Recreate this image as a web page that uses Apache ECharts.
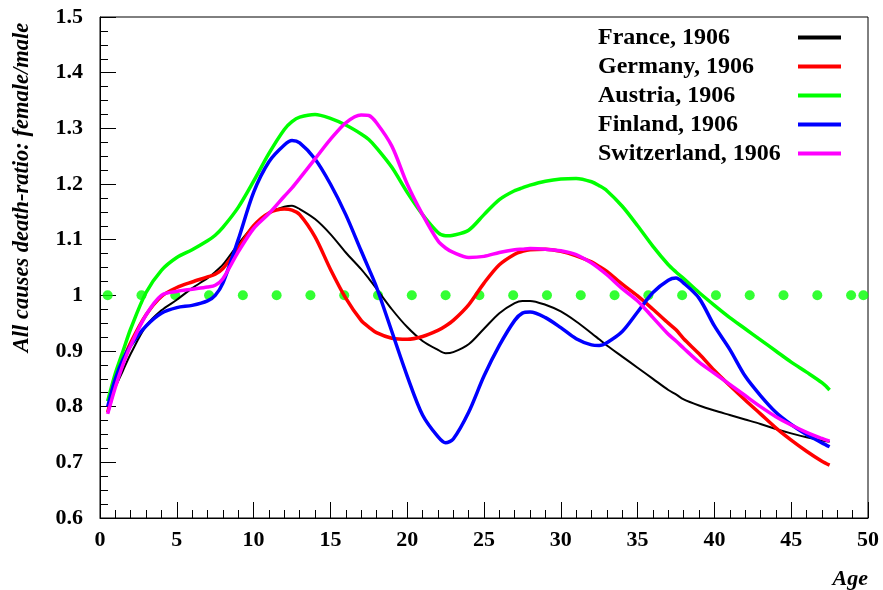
<!DOCTYPE html>
<html>
<head>
<meta charset="utf-8">
<script src="https://cdn.jsdelivr.net/npm/echarts@6/dist/echarts.min.js"></script>
<style>html,body{margin:0;padding:0;background:#fff}#c{width:883px;height:590px}</style>
</head>
<body>
<div id="c"></div>
<script>
const ages = [0.5,1,1.5,2,3,4,5,6,7,7.5,8,9,10,11,12,12.5,13,14,15,16,17,17.5,18,19,20,21,22,22.5,23,24,25,26,27,27.5,28,29,30,31,32,32.5,33,34,35,36,37,37.5,38,39,40,41,42,43,44,45,46,47,47.5];
const france = [0.80,0.835,0.865,0.895,0.945,0.973,0.992,1.013,1.031,1.042,1.055,1.092,1.125,1.148,1.159,1.161,1.155,1.137,1.11,1.077,1.047,1.03,1.012,0.975,0.943,0.918,0.902,0.896,0.898,0.912,0.94,0.968,0.986,0.99,0.99,0.983,0.971,0.953,0.932,0.921,0.91,0.89,0.87,0.85,0.83,0.822,0.813,0.802,0.793,0.785,0.777,0.769,0.76,0.752,0.745,0.739,0.737];
const germany = [0.79,0.84,0.882,0.915,0.965,0.998,1.014,1.024,1.033,1.038,1.048,1.085,1.125,1.148,1.155,1.153,1.145,1.105,1.047,0.995,0.955,0.943,0.933,0.923,0.921,0.926,0.937,0.945,0.955,0.983,1.022,1.055,1.074,1.079,1.082,1.083,1.079,1.071,1.06,1.052,1.043,1.02,0.999,0.975,0.95,0.938,0.922,0.895,0.865,0.838,0.812,0.787,0.762,0.74,0.72,0.702,0.695];
const austria = [0.81,0.86,0.90,0.94,1.005,1.045,1.068,1.082,1.098,1.108,1.122,1.158,1.205,1.255,1.298,1.312,1.32,1.325,1.318,1.306,1.29,1.28,1.265,1.23,1.185,1.145,1.113,1.107,1.108,1.117,1.145,1.172,1.188,1.193,1.198,1.205,1.209,1.21,1.204,1.197,1.188,1.16,1.125,1.088,1.055,1.042,1.03,1.005,0.982,0.96,0.94,0.92,0.90,0.88,0.862,0.843,0.83];
const finland = [0.80,0.85,0.885,0.91,0.945,0.968,0.978,0.982,0.99,1.0,1.022,1.10,1.185,1.24,1.27,1.278,1.274,1.245,1.2,1.145,1.08,1.048,1.015,0.935,0.855,0.785,0.746,0.735,0.742,0.79,0.855,0.91,0.955,0.968,0.97,0.96,0.942,0.922,0.911,0.91,0.915,0.935,0.97,1.005,1.027,1.031,1.022,0.995,0.945,0.903,0.855,0.82,0.79,0.768,0.75,0.735,0.728];
const switzerland = [0.787,0.835,0.876,0.91,0.965,1.0,1.007,1.011,1.015,1.018,1.03,1.078,1.12,1.147,1.178,1.193,1.21,1.245,1.28,1.31,1.324,1.323,1.31,1.268,1.2,1.145,1.098,1.085,1.077,1.068,1.07,1.077,1.082,1.083,1.084,1.083,1.08,1.073,1.058,1.048,1.037,1.012,0.99,0.96,0.93,0.918,0.905,0.88,0.86,0.84,0.82,0.80,0.782,0.767,0.754,0.743,0.738];
const refAges = [0.5,2.7,4.9,7.1,9.3,11.5,13.7,15.9,18.1,20.3,22.5,24.7,26.9,29.1,31.3,33.5,35.7,37.9,40.1,42.3,44.5,46.7,48.9,49.7];
const refValue = 1.0;
const names = ['France, 1906','Germany, 1906','Austria, 1906','Finland, 1906','Switzerland, 1906'];
const colors = ['#000000','#ff0000','#00ff00','#0000ff','#ff00ff'];
const widths = [2,3.5,3.5,3.5,3.5];
const seriesVals = [france, germany, austria, finland, switzerland];

const chart = echarts.init(document.getElementById('c'));
const serif = '"Liberation Serif","DejaVu Serif",serif';
const lineSeries = seriesVals.map((vals,i)=>({
  name: names[i], type:'line', smooth:0.3, symbol:'none',
  data: ages.map((a,j)=>[a, vals[j]]),
  lineStyle:{color:colors[i], width:widths[i]},
  itemStyle:{color:colors[i]}, z: 3
}));
chart.setOption({
  animation:false,
  backgroundColor:'#ffffff',
  grid:{left:100,right:15,top:17,bottom:71,show:true,borderColor:'#000',borderWidth:1,backgroundColor:'transparent'},
  legend:{
    data:names, orient:'vertical', left:593, top:18, align:'right',
    icon:'rect', itemWidth:43, itemHeight:4, itemGap:0,
    formatter: n => '{a|' + n + '}',
    textStyle:{fontFamily:serif, fontWeight:'bold', fontSize:24, color:'#000', lineHeight:29,
      rich:{a:{fontFamily:serif, fontWeight:'bold', fontSize:24, color:'#000', width:195, align:'left', lineHeight:29}}}
  },
  xAxis:{
    type:'value', min:0, max:50, interval:5,
    name:'Age', nameLocation:'end', nameGap:0,
    nameTextStyle:{fontFamily:serif, fontWeight:'bold', fontStyle:'italic', fontSize:22, color:'#000', align:'right', verticalAlign:'top', padding:[50,0,0,0]},
    axisLine:{lineStyle:{color:'#000',width:1}},
    axisTick:{inside:true,length:16,lineStyle:{color:'#000'}},
    minorTick:{show:true,splitNumber:5,length:8,lineStyle:{color:'#000'}},
    splitLine:{show:false},
    axisLabel:{fontFamily:serif, fontWeight:'bold', fontSize:22, color:'#000', margin:11}
  },
  yAxis:{
    type:'value', min:0.6, max:1.5, interval:0.1,
    name:'All causes death-ratio: female/male', nameLocation:'middle', nameRotate:90, nameGap:66,
    nameTextStyle:{fontFamily:serif, fontWeight:'bold', fontStyle:'italic', fontSize:22.5, color:'#000', padding:[0,0,0,160]},
    axisLine:{lineStyle:{color:'#000',width:1}},
    axisTick:{inside:true,length:16,lineStyle:{color:'#000'}},
    minorTick:{show:true,splitNumber:4,length:8,lineStyle:{color:'#000'}},
    splitLine:{show:false},
    axisLabel:{fontFamily:serif, fontWeight:'bold', fontSize:22, color:'#000', margin:17}
  },
  series:[
    {type:'scatter', name:'ref', data: refAges.map(a=>[a, refValue]), symbol:'circle', symbolSize:10, itemStyle:{color:'#00ff00'}, z:2, silent:true}
  ].concat(lineSeries)
});
</script>
</body>
</html>
